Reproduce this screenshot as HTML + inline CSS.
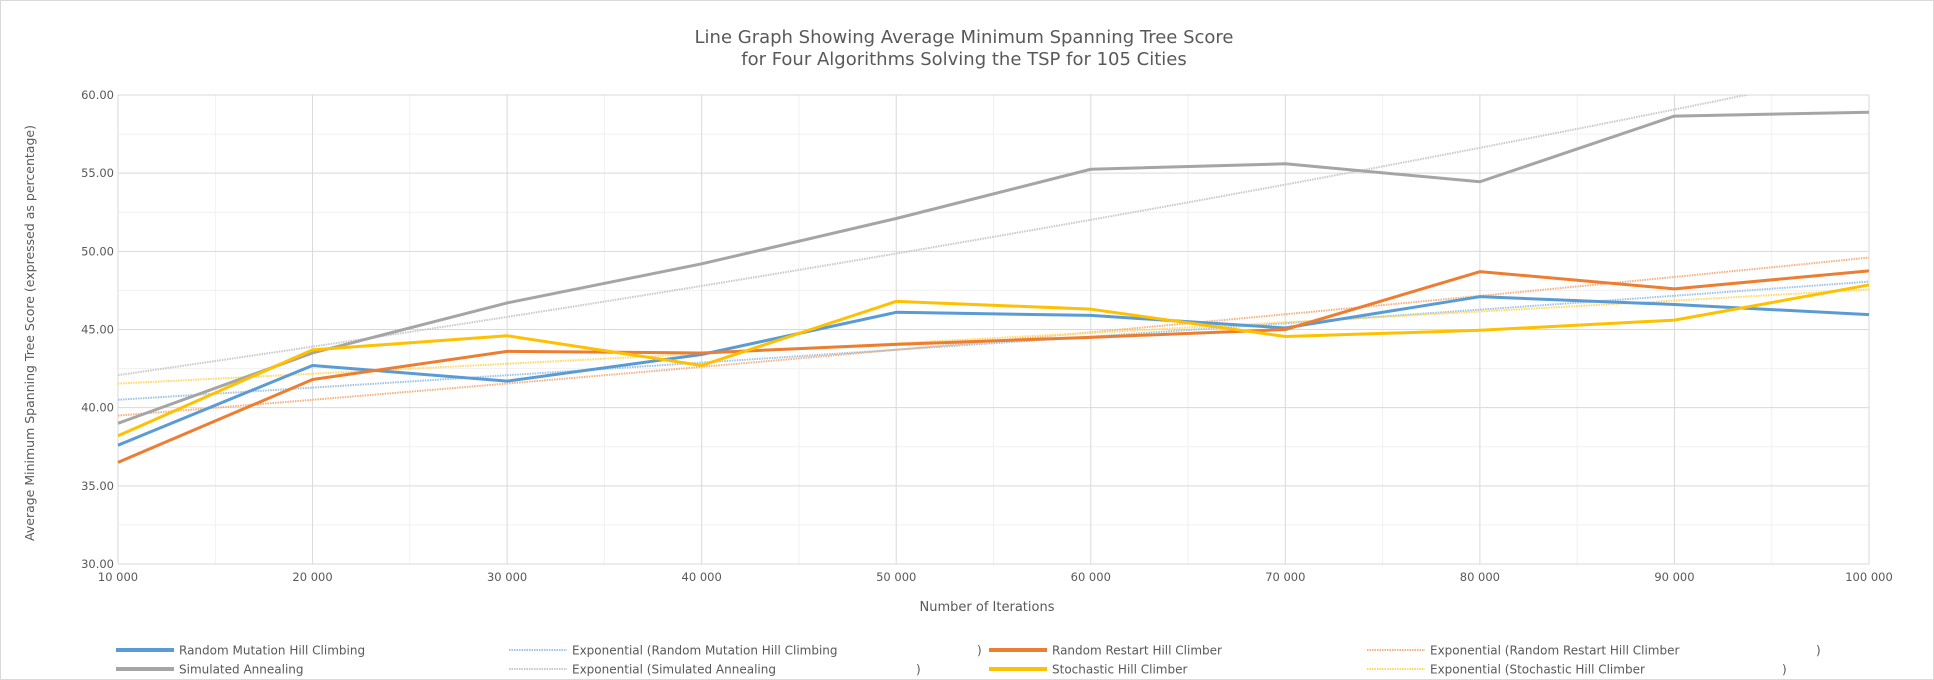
<!DOCTYPE html>
<html><head><meta charset="utf-8"><style>
body{margin:0;background:#fff;}
svg{display:block;font-family:"DejaVu Sans","Liberation Sans",sans-serif;}
</style></head><body>
<svg id="chart" width="1934" height="680">
<rect x="0.5" y="0.5" width="1933" height="679" fill="#fff" stroke="#d9d9d9"/>
<text x="964" y="43" text-anchor="middle" font-size="18" fill="#595959">Line Graph Showing Average Minimum Spanning Tree Score</text>
<text x="964" y="65" text-anchor="middle" font-size="18" fill="#595959">for Four Algorithms Solving the TSP for 105 Cities</text>
<g id="grid"></g><g id="axes"></g><g id="series"></g>
<text x="987" y="611" text-anchor="middle" font-size="13" fill="#595959">Number of Iterations</text>
<text transform="translate(34,333) rotate(-90)" text-anchor="middle" font-size="12.5" fill="#595959">Average Minimum Spanning Tree Score (expressed as percentage)</text>
<g id="legend"></g>
</svg>
<script>
const categories=[10000,20000,30000,40000,50000,60000,70000,80000,90000,100000];
const xTickLabels=["10 000","20 000","30 000","40 000","50 000","60 000","70 000","80 000","90 000","100 000"];
const yTicks=[30,35,40,45,50,55,60];
const randomMutation=[37.6,42.7,41.7,43.4,46.1,45.9,45.1,47.1,46.6,45.95];
const randomRestart=[36.5,41.8,43.6,43.5,44.05,44.5,45.0,48.7,47.6,48.75];
const simulatedAnnealing=[39.0,43.5,46.7,49.2,52.1,55.25,55.6,54.45,58.65,58.9];
const stochastic=[38.2,43.7,44.6,42.7,46.8,46.3,44.55,44.95,45.6,47.85];

const NS="http://www.w3.org/2000/svg";
const L=118,R=1869,T=95,B=564;
const x=v=>L+(v-10000)/90000*(R-L);
const y=v=>B-(v-30)/30*(B-T);
function mk(tag,attrs,parent){const e=document.createElementNS(NS,tag);for(const k in attrs)e.setAttribute(k,attrs[k]);parent.appendChild(e);return e;}
const grid=document.getElementById('grid'),axes=document.getElementById('axes'),ser=document.getElementById('series'),leg=document.getElementById('legend');
for(let v=15000;v<100000;v+=10000){const l=mk('line',{x1:x(v),x2:x(v),y1:T,y2:B,stroke:'#f0f0f0'},grid);

}
for(let v=32.5;v<60;v+=5){const l=mk('line',{x1:L,x2:R,y1:y(v),y2:y(v),stroke:'#f0f0f0'},grid);

}
categories.forEach((c,i)=>{const l=mk('line',{x1:x(c),x2:x(c),y1:T,y2:B,stroke:'#d9d9d9'},grid);


const t=mk('text',{x:x(c),y:B+17,'text-anchor':'middle','font-size':11.5,fill:'#595959'},axes);t.textContent=xTickLabels[i];

});
yTicks.forEach(v=>{const l=mk('line',{x1:L,x2:R,y1:y(v),y2:y(v),stroke:'#d9d9d9'},grid);


const t=mk('text',{x:L-4,y:y(v)+4,'text-anchor':'end','font-size':11.5,fill:'#595959'},axes);t.textContent=v.toFixed(2);

});
function expFit(vals){const n=vals.length;let sx=0,sy=0,sxx=0,sxy=0;categories.forEach((c,i)=>{const ly=Math.log(vals[i]);sx+=c;sy+=ly;sxx+=c*c;sxy+=c*ly;});
const b=(n*sxy-sx*sy)/(n*sxx-sx*sx),a=(sy-b*sx)/n;return c=>Math.exp(a+b*c);}
const series=[
 {name:'random-mutation',data:randomMutation,color:'#5b9bd5',trend:'#9dc3e6'},
 {name:'random-restart',data:randomRestart,color:'#ed7d31',trend:'#f4b183'},
 {name:'simulated-annealing',data:simulatedAnnealing,color:'#a5a5a5',trend:'#c9c9c9'},
 {name:'stochastic',data:stochastic,color:'#ffc000',trend:'#ffd966'}];
const cp=mk('clipPath',{id:'clip'},document.getElementById('chart'));
mk('rect',{x:L,y:T,width:R-L,height:B-T},cp);
series.forEach(s=>{const f=expFit(s.data);let pts=[];for(let c=10000;c<=100000;c+=1000)pts.push(x(c)+','+y(f(c)));
const p=mk('polyline',{points:pts.join(' '),fill:'none',stroke:s.trend,'stroke-width':2,'stroke-dasharray':'1.5 1','clip-path':'url(#clip)'},ser);

});
series.forEach(s=>{const pts=categories.map((c,i)=>x(c)+','+y(s.data[i]));
const p=mk('polyline',{points:pts.join(' '),fill:'none',stroke:s.color,'stroke-width':3,'stroke-linejoin':'round'},ser);

});
const legendItems=[
 ['Random Mutation Hill Climbing','#5b9bd5',false,116,650,null],
 ['Exponential (Random Mutation Hill Climbing','#9dc3e6',true,509,650,977],
 ['Random Restart Hill Climber','#ed7d31',false,989,650,null],
 ['Exponential (Random Restart Hill Climber','#f4b183',true,1367,650,1816],
 ['Simulated Annealing','#a5a5a5',false,116,669,null],
 ['Exponential (Simulated Annealing','#c9c9c9',true,509,669,916],
 ['Stochastic Hill Climber','#ffc000',false,989,669,null],
 ['Exponential (Stochastic Hill Climber','#ffd966',true,1367,669,1782]];
legendItems.forEach(it=>{const g=mk('g',{},leg);


mk('line',{x1:it[3],x2:it[3]+58,y1:it[4],y2:it[4],stroke:it[1],'stroke-width':it[2]?2:4,'stroke-dasharray':it[2]?'1.5 1':'none'},g);
const t=mk('text',{x:it[3]+63,y:it[4]+4.5,'font-size':12,fill:'#595959'},g);t.textContent=it[0];
if(it[5]){const c=mk('text',{x:it[5],y:it[4]+4.5,'font-size':12,fill:'#595959'},g);c.textContent=')';}});
</script>
</body></html>
